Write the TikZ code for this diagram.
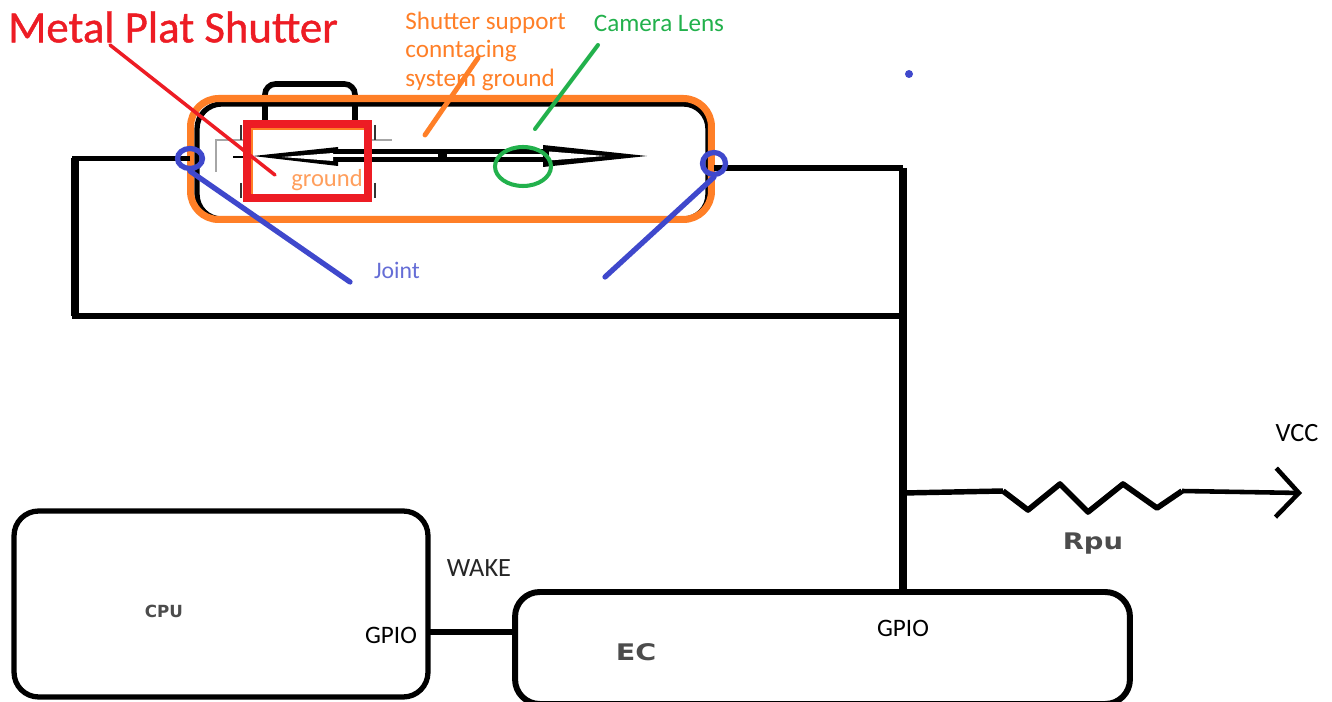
\documentclass[tikz,border=0pt]{standalone}
\usepackage{xcolor}
\usepackage{fontspec}
\setmainfont{Carlito}
\newfontfamily\blurfont{DejaVu Sans}
\newfontfamily\titlefont[FakeBold=0.9]{Carlito}
\usetikzlibrary{arrows.meta, positioning, calc, shapes.geometric}
\definecolor{camorange}{HTML}{FF7F27}
\definecolor{camred}{HTML}{ED1C24}
\definecolor{camgreen}{HTML}{22B14C}
\definecolor{camblue}{HTML}{3F48CC}
\tikzset{
    chipbox/.style={draw=black, line width=3pt, rounded corners=14pt, fill=white, inner sep=0pt},
    wire/.style={draw=black, line width=3.1pt},
    buswire/.style={draw=black, line width=4.6pt},
    jointring/.style={draw=camblue, line width=3pt, ellipse, inner sep=0pt},
    pointer/.style={line cap=round},
    lbl/.style={inner sep=0pt, font=\fontsize{14.3}{14.3}\selectfont},
    blurlbl/.style={inner sep=0pt, text=black!70}
}
\begin{document}
\begin{tikzpicture}[x=0.02cm, y=-0.02cm]
    \useasboundingbox[fill=white] (0,0) rectangle (1332,702);

    % Camera body
    \draw[line width=3.2pt, rounded corners=6pt] (265,122) -- (265,84) -- (355,84) -- (355,122);
    \node[draw=black, line width=3pt, rounded corners=14pt, minimum width=10.22cm, minimum height=2.3cm, inner sep=0pt] (body) at (452.5,161.5) {};
    \node[draw=camorange, line width=4pt, rounded corners=16pt, minimum width=10.42cm, minimum height=2.42cm, inner sep=0pt] (bodyframe) at (451,159) {};

    % Shutter plate
    \draw[black!35, line width=0.8pt] (216,172) -- (216,140) -- (245,140);
    \draw[black!35, line width=0.8pt] (371,140) -- (392,140);
    \draw[black!80, line width=1.6pt] (241,140) -- (241,125) (241,183) -- (241,198) (375,125) -- (375,140) (375,183) -- (375,198);
    \draw[line width=1.6pt] (233,157) -- (253,157);
    \fill[black] (253,156) -- (338,147) -- (338,166) -- cycle;
    \fill[white] (282,157) -- (333,153) -- (333,161) -- cycle;
    \fill[black] (336,149.5) rectangle (440,162);
    \fill[white] (330,154) rectangle (438,157.5);
    \fill[black] (438,149.5) rectangle (447,162);
    \fill[black] (447,149.5) rectangle (545,162);
    \fill[white] (447,154) rectangle (552,157.5);
    \fill[black] (543,145) -- (647,156) -- (543,167) -- cycle;
    \fill[white] (549,151.5) -- (605,156) -- (549,160.5) -- cycle;
    \node[draw=camorange, line width=0.6pt, minimum width=2.26cm, minimum height=1.32cm, inner sep=0pt] (plateinner) at (308.5,162) {};
    \node[draw=camred, line width=4.4pt, minimum width=2.42cm, minimum height=1.48cm, inner sep=0pt] (plate) at (307.5,161) {};
    \node[lbl, text=camorange!75, font=\fontsize{14}{14}\selectfont] (groundlbl) at (327,180) {ground};

    % Lens and joints
    \node[draw=camgreen, line width=2.3pt, ellipse, minimum width=1.12cm, minimum height=0.78cm, inner sep=0pt] (lens) at (523,166.5) {};

    % Wiring
    \coordinate (ringl) at (190,158.5);
    \coordinate (ringr) at (714,168);
    \coordinate (bend1) at (75,158.5);
    \coordinate (bend2) at (75,316);
    \coordinate (bend3) at (903,316);
    \coordinate (bend4) at (903,168);
    \coordinate (tap) at (903,493);
    \coordinate (rstart) at (1003,491);
    \coordinate (rend) at (1182,491);
    \coordinate (vccend) at (1302,493);
    \path[wire] (ringl) -- (bend1) -- (bend2) -- (bend3);
    \draw[black, line width=4.4pt] (bend1) -- (bend2);
    \path[wire] (ringr) -- (bend4);
    \node[jointring, minimum width=0.5cm, minimum height=0.4cm] (jointl) at (ringl) {};
    \node[jointring, minimum width=0.46cm, minimum height=0.44cm] (jointr) at (714,163.5) {};

    % Chips
    \node[chipbox, minimum width=8.28cm, minimum height=3.72cm] (cpu) at (221,604) {};
    \node[chipbox, line width=3.4pt, minimum width=12.3cm, minimum height=2.24cm] (ec) at (822.5,648) {};
    \coordinate (linkstart) at (428,632);
    \path[buswire] (bend4) -- (bend4 |- ec.north);
    \path[wire] (linkstart) -- (linkstart -| ec.west);

    % Pull-up
    \path[wire] (tap) -- (rstart);
    \draw[line width=3.2pt, line join=round] (rstart) -- (1028,510) -- (1060,484) -- (1088,512) -- (1123,484) -- (1157,508) -- (rend);
    \draw[line width=2.6pt, -{Straight Barb[length=0.46cm, width=0.98cm]}] (rend) -- (vccend);

    % Pointers
    \coordinate (redstart) at (110,45);
    \coordinate (redend) at (275,175);
    \coordinate (orangestart) at (478,58);
    \coordinate (orangeend) at (425,135);
    \coordinate (greenstart) at (598,45);
    \coordinate (greenend) at (535,129);
    \coordinate (jointlend) at (350,282);
    \coordinate (jointrend) at (605,277);
    \draw[camred, pointer, line width=2pt] (redstart) -- (redend);
    \draw[camorange, pointer, line width=2.8pt] (orangestart) -- (orangeend);
    \draw[camgreen, pointer, line width=2.3pt] (greenstart) -- (greenend);
    \draw[camblue, pointer, line width=3pt] (jointl.south) -- (jointlend);
    \draw[camblue, pointer, line width=3pt] (jointr.south) -- (jointrend);
    \fill[camblue] (909,74) circle (0.08cm);

    % Labels
    \node[inner sep=0pt, text=camred, font=\fontsize{25.5}{25.5}\titlefont] (title) at (173,27) {Metal Plat Shutter};
    \node[lbl, text=camorange, anchor=north west, align=left, font=\fontsize{14.3}{16}\selectfont] (supportlbl) at (405,12) {Shutter support\\conntacing\\system ground};
    \node[lbl, text=camgreen] (lenslbl) at (659,23) {Camera Lens};
    \node[lbl, text=camblue!80, font=\fontsize{13.5}{13.5}\selectfont] (jointlbl) at (397,270) {Joint};
    \node[lbl, font=\fontsize{15}{15}\selectfont] (vcclbl) at (1297,433) {VCC};
    \node[blurlbl, font=\fontsize{13}{13}\blurfont\bfseries] (rpulbl) at (1093,544) {\scalebox{1.2}[1]{Rpu}};
    \node[lbl, text=black!85, font=\fontsize{15}{15}\selectfont] (wakelbl) at (479,568) {WAKE};
    \node[blurlbl, font=\fontsize{9.5}{9.5}\blurfont\bfseries] (cpulbl) at (164,611) {CPU};
    \node[lbl] (gpiocpu) at (391,635) {GPIO};
    \node[lbl] (gpioec) at (903,628) {GPIO};
    \node[blurlbl, font=\fontsize{13}{13}\blurfont\bfseries] (eclbl) at (636,652) {\scalebox{1.25}[1]{EC}};
\end{tikzpicture}
\end{document}
